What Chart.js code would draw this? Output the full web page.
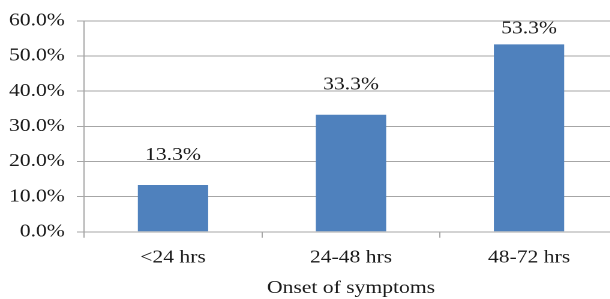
<!DOCTYPE html>
<html>
<head>
<meta charset="utf-8">
<script src="https://cdn.jsdelivr.net/npm/chart.js@4"></script>
<style>
  html, body { margin: 0; padding: 0; background: #fff; overflow: hidden; }
  #wrap { width: 515px; height: 299px; transform: scaleX(1.2); transform-origin: 0 0; }
</style>
</head>
<body>
<div id="wrap"><canvas id="chart"></canvas></div>
<script>
const categories = ['<24 hrs', '24-48 hrs', '48-72 hrs'];
const percentages = [13.3, 33.3, 53.3];
const yTicks = [0, 10, 20, 30, 40, 50, 60];

const fontFamily = '"Liberation Serif", "Times New Roman", serif';

// labels above each bar, like the Excel data labels
const barLabels = {
  id: 'barLabels',
  afterDatasetsDraw(chart) {
    const ctx = chart.ctx;
    const meta = chart.getDatasetMeta(0);
    ctx.save();
    ctx.font = '18px ' + fontFamily;
    ctx.fillStyle = '#1a1a1a';
    ctx.textAlign = 'center';
    ctx.textBaseline = 'middle';
    meta.data.forEach(function(bar, i) {
      const y = Math.max(bar.y - 30, chart.chartArea.top + 8);
      ctx.fillText(percentages[i].toFixed(1) + '%', bar.x, y);
    });
    ctx.restore();
  }
};

new Chart(document.getElementById('chart'), {
  type: 'bar',
  data: {
    labels: categories,
    datasets: [{
      data: percentages,
      backgroundColor: '#4F81BD',
      borderWidth: 0,
      categoryPercentage: 1,
      barPercentage: 0.395
    }]
  },
  options: {
    responsive: true,
    maintainAspectRatio: false,
    animation: false,
    devicePixelRatio: 2,
    layout: { padding: { top: 20, right: 0, left: 0, bottom: 0 } },
    plugins: { legend: { display: false }, tooltip: { enabled: false } },
    scales: {
      x: {
        grid: { drawOnChartArea: false, drawTicks: true, tickLength: 6, color: '#a6a6a6', offset: true },
        border: { display: false },
        ticks: { color: '#1a1a1a', font: { family: fontFamily, size: 18 }, padding: 9 },
        title: { display: true, text: 'Onset of symptoms', color: '#1a1a1a', font: { family: fontFamily, size: 18 }, padding: { top: 0, bottom: 0 } }
      },
      y: {
        min: 0,
        max: 60,
        afterBuildTicks(axis) { axis.ticks = yTicks.map(v => ({ value: v })); },
        afterFit(axis) { axis.width = 70; },
        grid: { color: '#a6a6a6', tickLength: 6 },
        border: { color: '#a6a6a6' },
        ticks: {
          color: '#1a1a1a',
          font: { family: fontFamily, size: 18 },
          padding: 10,
          callback: v => v.toFixed(1) + '%'
        }
      }
    }
  },
  plugins: [barLabels]
});
</script>
</body>
</html>
